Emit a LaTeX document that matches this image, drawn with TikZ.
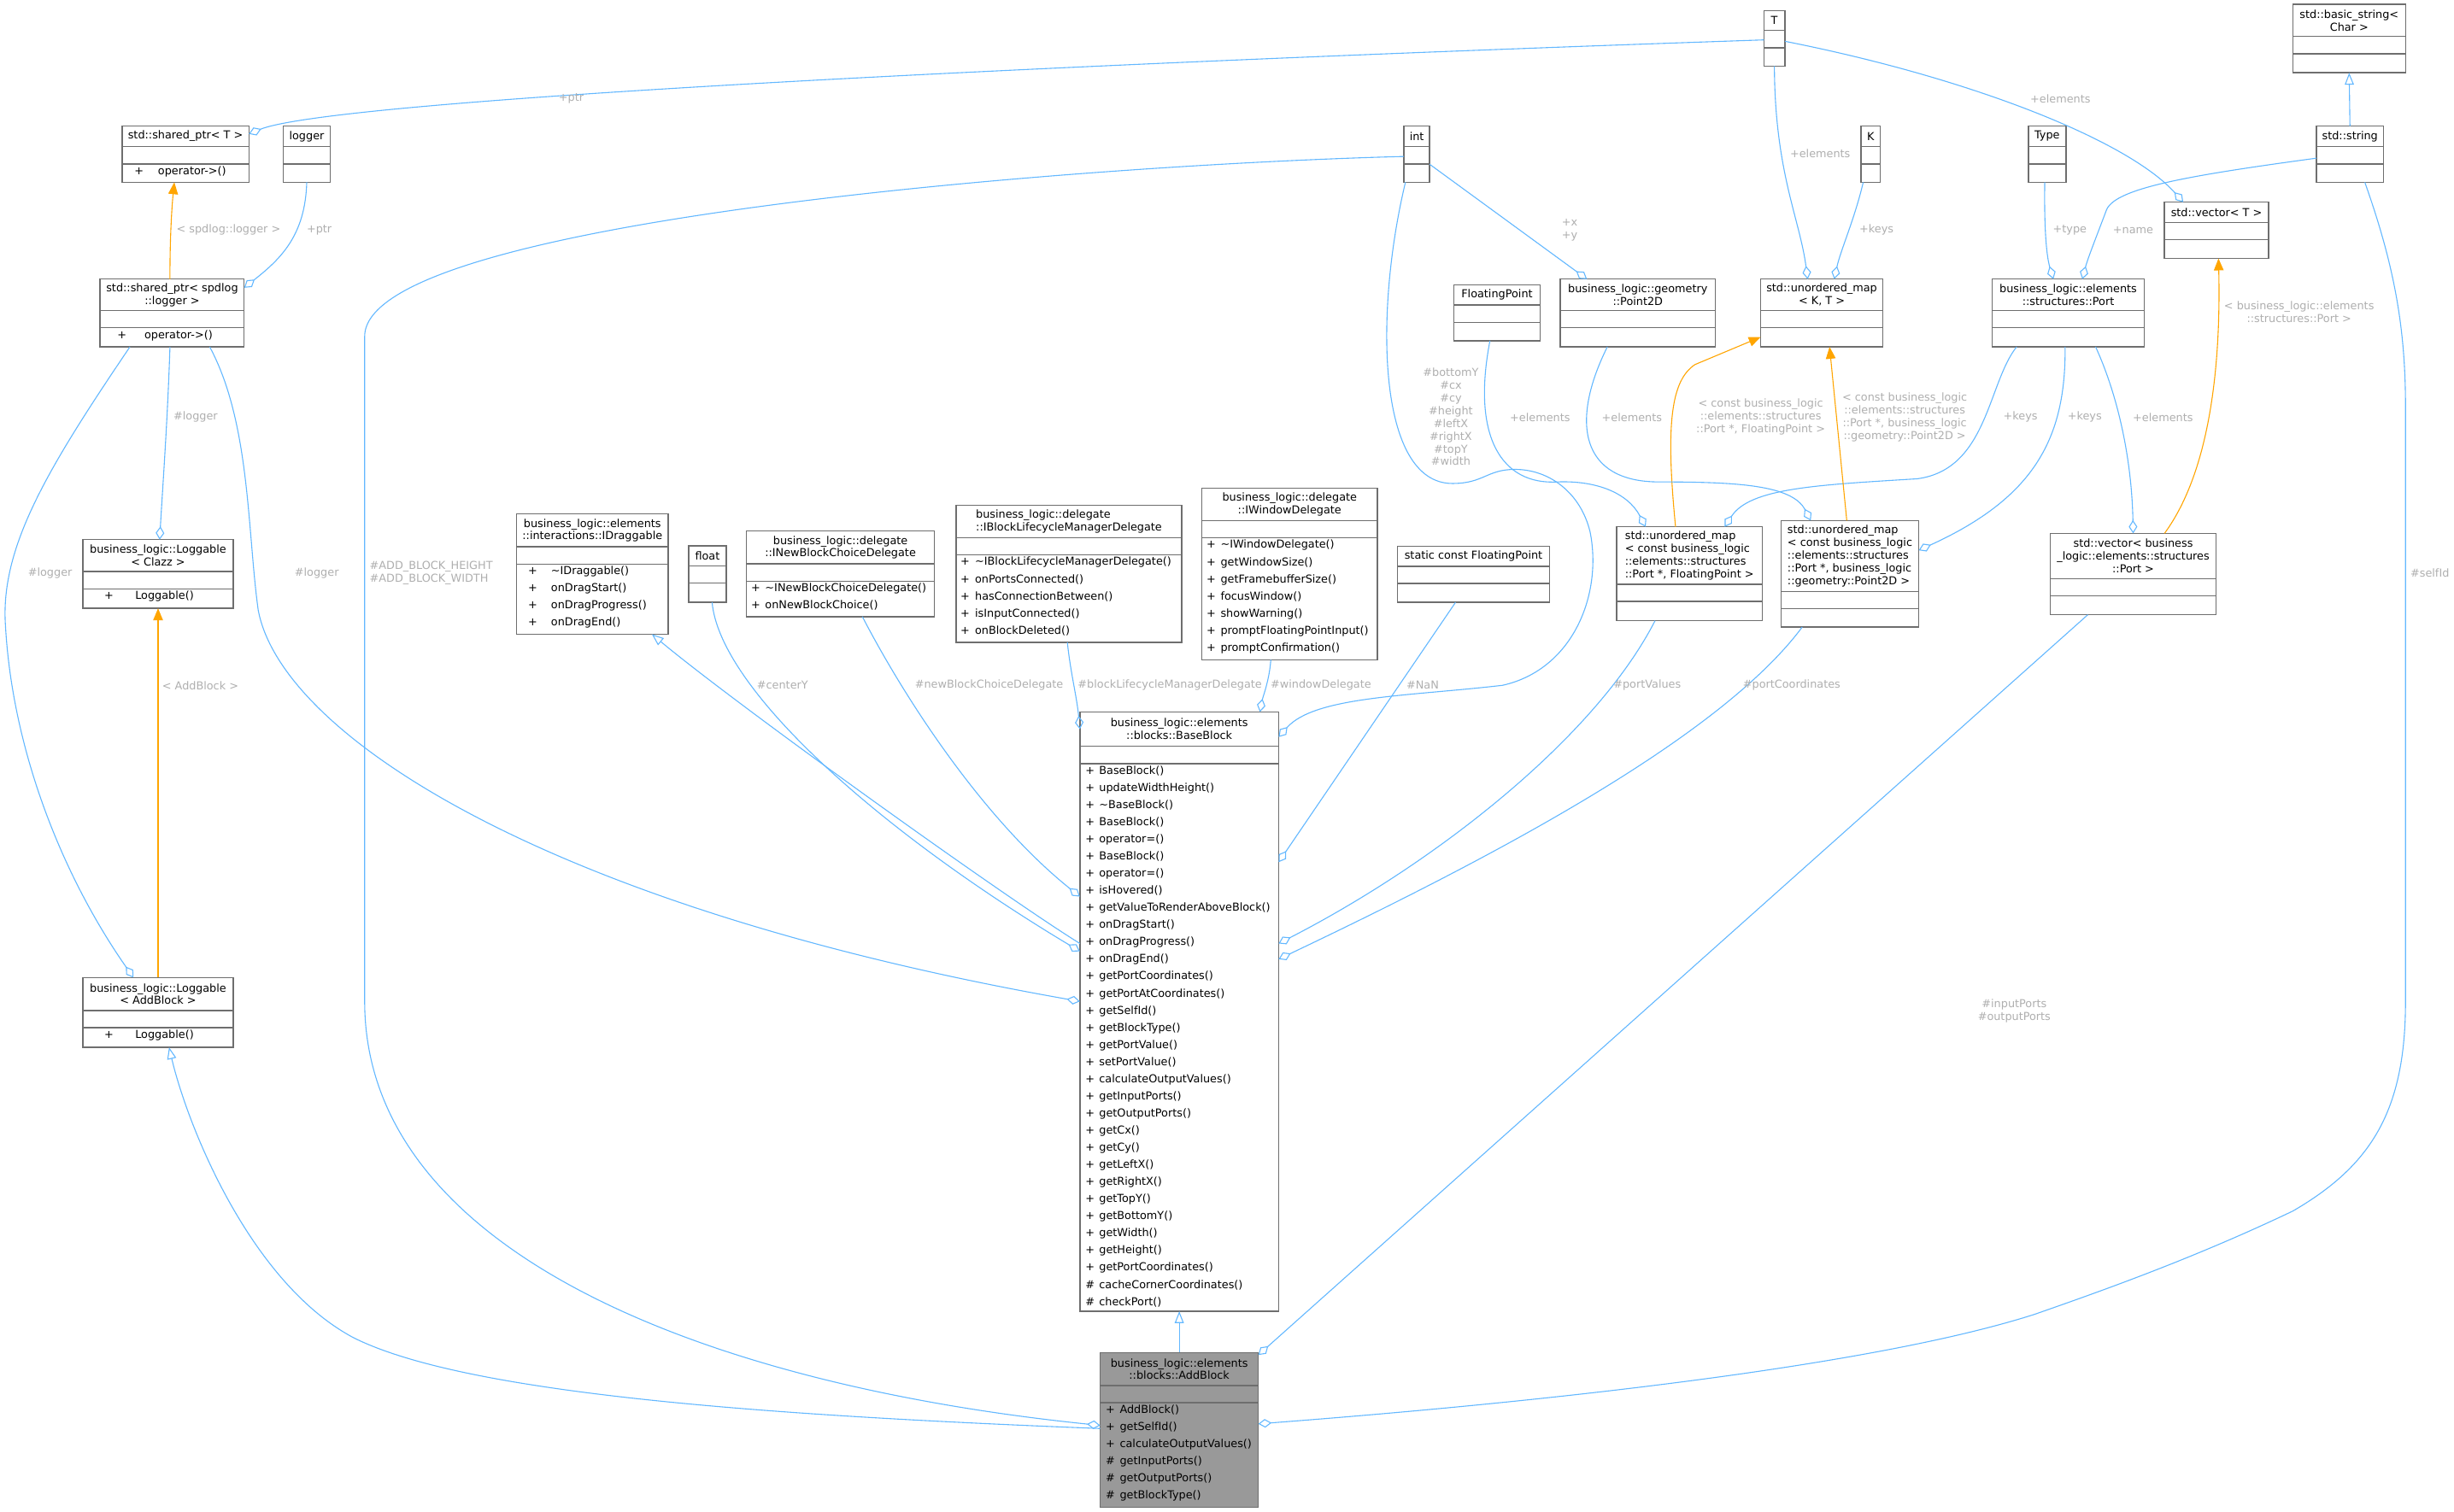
\documentclass[tikz,border=0pt]{standalone}
\usepackage{fontspec}
\setmainfont{DejaVu Sans}
\usetikzlibrary{arrows.meta,calc}

\definecolor{edgeblue}{RGB}{99,184,255}
\definecolor{edgeorange}{RGB}{255,165,0}
\definecolor{boxgray}{RGB}{110,110,110}
\definecolor{labelgray}{RGB}{175,175,175}
\definecolor{mainfill}{RGB}{153,153,153}

\tikzset{
  classbox/.style={draw=boxgray,line width=0.8pt,fill=white,inner sep=0pt,outer sep=0pt},
  classtitle/.style={font=\fontsize{7}{8.1}\selectfont,align=center,inner sep=0pt},
  optext/.style={font=\fontsize{7}{8.1}\selectfont,inner sep=0pt,anchor=base west},
  edgelabel/.style={font=\fontsize{7}{8.1}\selectfont,text=labelgray,align=center,inner sep=0pt},
  has/.style={draw=edgeblue,line width=0.6pt,-{Diamond[open,length=8.5pt,width=5.5pt]}},
  isa/.style={draw=edgeblue,line width=0.6pt,-{Triangle[open,length=7.6pt,width=5.8pt]}},
  tmpl/.style={draw=edgeorange,line width=0.6pt,-{Triangle[length=7.6pt,width=6.2pt]}},
}

% class box: [opts]{name}{left,top}{width}{title height}{ops height}{title}
\newcommand{\umlbox}[7][]{%
  \node[classbox,#1,minimum width=#4pt,minimum height=#5pt+#6pt+11pt,anchor=north west] (#2) at (#3) {};
  \draw[boxgray,line width=0.8pt] ($(#2.north west)+(0,#5)$) -- ($(#2.north east)+(0,#5)$);
  \draw[boxgray,line width=0.8pt] ($(#2.north west)+(0,#5+11)$) -- ($(#2.north east)+(0,#5+11)$);
  \coordinate (#2-ops) at ($(#2.north west)+(0,#5+11)$);
  \node[classtitle,#1] (#2-title) at ($(#2.north)+(0,#5/2)$) {#7};
}
% operations: {box}{symbol x}{name x}{sym/name list}
\newcommand{\umlops}[4]{%
  \foreach \sym/\op [count=\k from 0] in {#4} {
    \node[optext] (#1-sym\k) at ($(#1-ops)+(#2,6.8+10.95*\k)$) {\sym};
    \node[optext] (#1-op\k) at ($(#1-ops)+(#3,6.8+10.95*\k)$) {\op};
  }%
}

\begin{document}
\begin{tikzpicture}[x=1pt,y=-1pt]
  \fill[white] (0,0) rectangle (1568,966);
  \useasboundingbox (0,0) rectangle (1568,966);

  % top row
  \umlbox{T}{1127,6.7}{13.5}{12.8}{11.8}{T}
  \umlbox{basicstr}{1465,2.7}{72}{20.6}{12.2}{std::basic\_string<\\Char >}
  \umlbox{sharedT}{78,80.6}{81}{13.1}{11.8}{std::shared\_ptr< T >}
  \umlops{sharedT}{7.7}{22.8}{+/operator->()}
  \umlbox{logger}{181,80.6}{30}{13.1}{11.8}{logger}
  \umlbox{int}{897,80.6}{16.5}{13.1}{11.8}{int}
  \umlbox{K}{1189,80.6}{12.5}{13.1}{11.8}{K}
  \umlbox{Type}{1296,80.6}{24}{13.1}{11.8}{Type}
  \umlbox{string}{1480,80.6}{43}{13.1}{11.8}{std::string}
  \umlbox{vecT}{1383,129.2}{66.5}{13}{12}{std::vector< T >}
  \umlbox{sharedSpd}{64,178.4}{92}{20}{12.3}{std::shared\_ptr< spdlog\\::logger >}
  \umlops{sharedSpd}{10.8}{28.1}{+/operator->()}
  \umlbox{FP}{929,182}{55}{13}{11.8}{FloatingPoint}
  \umlbox{Point2D}{997,178.4}{99}{20}{12.3}{business\_logic::geometry\\::Point2D}
  \umlbox{umapKT}{1125,178.4}{78}{20}{12.3}{std::unordered\_map\\< K, T >}
  \umlbox{Port}{1273,178.4}{97}{20}{12.3}{business\_logic::elements\\::structures::Port}

  % middle row
  \umlbox{LogClazz}{53,344.9}{96}{20.4}{12.5}{business\_logic::Loggable\\< Clazz >}
  \umlops{LogClazz}{13.5}{33.2}{+/Loggable()}
  \umlbox{IDraggable}{330,328.5}{97}{21}{44.8}{business\_logic::elements\\::interactions::IDraggable}
  \umlops{IDraggable}{7.3}{21.9}{+/\textasciitilde IDraggable(),+/onDragStart(),+/onDragProgress(),+/onDragEnd()}
  \umlbox{float}{440,348.9}{24}{12.7}{12.4}{float}
  \umlbox{INewBlock}{477,339.4}{120}{21}{22.7}{business\_logic::delegate\\::INewBlockChoiceDelegate}
  \umlops{INewBlock}{2.8}{11.7}{+/\textasciitilde INewBlockChoiceDelegate(),+/onNewBlockChoice()}
  \umlbox[align=left]{ILifecycle}{611,323}{144}{20.6}{56}{business\_logic::delegate\\::IBlockLifecycleManagerDelegate}
  \umlops{ILifecycle}{2.5}{11.8}{+/\textasciitilde IBlockLifecycleManagerDelegate(),+/onPortsConnected(),+/hasConnectionBetween(),+/isInputConnected(),+/onBlockDeleted()}
  \umlbox{IWindow}{768,312.1}{112}{20.6}{78}{business\_logic::delegate\\::IWindowDelegate}
  \umlops{IWindow}{2.8}{11.7}{+/\textasciitilde IWindowDelegate(),+/getWindowSize(),+/getFramebufferSize(),+/focusWindow(),+/showWarning(),+/promptFloatingPointInput(),+/promptConfirmation()}
  \umlbox{staticFP}{893,349}{97}{13}{12}{static const FloatingPoint}
  \umlbox[align=left]{umapFP}{1033,336.7}{93}{36.7}{12.3}{std::unordered\_map\\< const business\_logic\\::elements::structures\\::Port *, FloatingPoint >}
  \umlbox[align=left]{umapP2D}{1138,332.7}{88}{45.3}{11.8}{std::unordered\_map\\< const business\_logic\\::elements::structures\\::Port *, business\_logic\\::geometry::Point2D >}
  \umlbox{vecPort}{1310,340.9}{106}{29}{12}{std::vector< business\\\_logic::elements::structures\\::Port >}

  % blocks
  \umlbox{BaseBlock}{690,455}{127}{22}{350}{business\_logic::elements\\::blocks::BaseBlock}
  \umlops{BaseBlock}{3.3}{12.1}{+/BaseBlock(),+/updateWidthHeight(),+/\textasciitilde BaseBlock(),+/BaseBlock(),+/operator=(),+/BaseBlock(),+/operator=(),+/isHovered(),+/getValueToRenderAboveBlock(),+/onDragStart(),+/onDragProgress(),+/onDragEnd(),+/getPortCoordinates(),+/getPortAtCoordinates(),+/getSelfId(),+/getBlockType(),+/getPortValue(),+/setPortValue(),+/calculateOutputValues(),+/getInputPorts(),+/getOutputPorts(),+/getCx(),+/getCy(),+/getLeftX(),+/getRightX(),+/getTopY(),+/getBottomY(),+/getWidth(),+/getHeight(),+/getPortCoordinates(),\#/cacheCornerCoordinates(),\#/checkPort()}
  \umlbox{LogAdd}{53,624.8}{96}{21}{12.5}{business\_logic::Loggable\\< AddBlock >}
  \umlops{LogAdd}{13.5}{33.2}{+/Loggable()}
  \umlbox[fill=mainfill]{AddBlock}{703,864.5}{101}{21}{66.8}{business\_logic::elements\\::blocks::AddBlock}
  \umlops{AddBlock}{3.3}{12.3}{+/AddBlock(),+/getSelfId(),+/calculateOutputValues(),\#/getInputPorts(),\#/getOutputPorts(),\#/getBlockType()}

  % templates and std types
  \draw[has] ($(T.north west)+(0,18.8)$) .. controls (700,40) and (215,63) .. ($(sharedT.north east)+(0,5)$);
  \node[edgelabel] (l-ptrT) at (365,63) {+ptr};
  \draw[has] (T.south) .. controls (1134,110) and (1150,140) .. ($(umapKT.north west)+(30,0)$);
  \node[edgelabel] (l-elemKT) at (1163,98) {+elements};
  \draw[has] ($(T.north east)+(0,19.7)$) .. controls (1260,50) and (1360,90) .. ($(vecT.north west)+(12,0)$);
  \node[edgelabel] (l-elemV) at (1316.5,63) {+elements};
  \draw[has] ($(K.south west)+(1.5,0)$) .. controls (1185,140) and (1176,160) .. ($(umapKT.north west)+(47,0)$);
  \node[edgelabel] (l-keysKT) at (1199,147) {+keys};
  \draw[has] ($(Type.south)+(-1.5,0)$) .. controls (1306,150) and (1308,165) .. ($(Port.north west)+(39,0)$);
  \node[edgelabel] (l-type) at (1322.5,147) {+type};
  \draw[has] ($(string.north west)+(0,20.5)$) .. controls (1400,112) and (1352,120) .. (1346,134) .. controls (1340,150) and (1334,165) .. ($(Port.north west)+(57.5,0)$);
  \node[edgelabel] (l-name) at (1363,147) {+name};
  \draw[isa] (string.north) -- (basicstr.south);
  \draw[has] ($(int.north east)+(0,24.4)$) -- ($(Point2D.north west)+(17,0)$);
  \node[edgelabel] (l-xy) at (1003,147) {+x\\+y};

  % logging
  \draw[has] (logger.south) .. controls (195,150) and (180,165) .. ($(sharedSpd.north east)+(0,5.5)$);
  \node[edgelabel] (l-ptrL) at (204,147) {+ptr};
  \draw[tmpl] ($(sharedSpd.north west)+(44.6,0)$) .. controls (108.5,150) and (110,130) .. ($(sharedT.south west)+(33.4,0)$);
  \node[edgelabel] (l-spd) at (146,147) {< spdlog::logger >};
  \draw[has] ($(sharedSpd.south west)+(44.6,0)$) .. controls (107,270) and (104,310) .. ($(LogClazz.north west)+(49,0)$);
  \node[edgelabel] (l-logC) at (125,266.6) {\#logger};
  \draw[has] ($(sharedSpd.south west)+(19,0)$) .. controls (30,300) and (0,350) .. (3.5,400) .. controls (8,480) and (40,560) .. ($(LogAdd.north west)+(32.3,0)$);
  \node[edgelabel] (l-logA) at (32,366.2) {\#logger};
  \draw[has] ($(sharedSpd.south west)+(70,0)$) .. controls (160,270) and (158,340) .. (165,390) .. controls (180,470) and (350,580) .. ($(BaseBlock.north west)+(0,185)$);
  \node[edgelabel] (l-logB) at (202.4,366.2) {\#logger};
  \draw[tmpl] (LogAdd.north) -- (LogClazz.south);
  \node[edgelabel] (l-addT) at (128,438) {< AddBlock >};
  \draw[isa] ($(AddBlock.north west)+(0,48.5)$) .. controls (500,905) and (300,892) .. (226,855) .. controls (160,820) and (120,720) .. ($(LogAdd.south west)+(55,0)$);
  \draw[has] ($(int.north west)+(0,19.4)$) .. controls (700,105) and (233,140) .. (233,215) -- (233,640) .. controls (233,800) and (450,885) .. ($(AddBlock.north west)+(0,46.5)$);
  \node[edgelabel,align=left,anchor=west] (l-add) at (236,366.3) {\#ADD\_BLOCK\_HEIGHT\\\#ADD\_BLOCK\_WIDTH};

  % base block members
  \draw[isa] ($(BaseBlock.north west)+(0,148)$) .. controls (640,572) and (470,450) .. ($(IDraggable.south west)+(86.5,0)$);
  \draw[has] ($(float.south west)+(15,0)$) .. controls (460,440) and (560,530) .. ($(BaseBlock.north west)+(0,153)$);
  \node[edgelabel] (l-centerY) at (500,438) {\#centerY};
  \draw[has] ($(INewBlock.south west)+(74,0)$) .. controls (580,450) and (630,525) .. ($(BaseBlock.north west)+(0,118)$);
  \node[edgelabel] (l-newBlock) at (632,438) {\#newBlockChoiceDelegate};
  \draw[has] ($(ILifecycle.south west)+(71,0)$) .. controls (684,430) and (688,445) .. ($(BaseBlock.north west)+(0,11)$);
  \node[edgelabel] (l-lifecycle) at (747.5,438) {\#blockLifecycleManagerDelegate};
  \draw[has] ($(IWindow.south west)+(44,0)$) .. controls (811,435) and (807,445) .. ($(BaseBlock.north west)+(115,0)$);
  \node[edgelabel] (l-window) at (844,438) {\#windowDelegate};
  \draw[has] ($(int.south west)+(1,0)$) .. controls (878,200) and (880,309) .. (928,309) .. controls (948,309) and (950,300) .. (968,300) .. controls (990,300) and (1010,315) .. (1016,340) .. controls (1024,380) and (1005,428) .. (960,438) .. controls (900,445) and (840,445) .. ($(BaseBlock.north east)+(0,16)$);
  \node[edgelabel] (l-geom) at (927,266.5) {\#bottomY\\\#cx\\\#cy\\\#height\\\#leftX\\\#rightX\\\#topY\\\#width};
  \draw[has] ($(staticFP.south west)+(37,0)$) -- ($(BaseBlock.north east)+(0,96)$);
  \node[edgelabel] (l-nan) at (909,438) {\#NaN};
  \draw[has] ($(umapFP.south west)+(24.5,0)$) .. controls (1020,470) and (920,550) .. ($(BaseBlock.north east)+(0,148)$);
  \node[edgelabel] (l-values) at (1052.5,438) {\#portValues};
  \draw[has] ($(umapP2D.south west)+(13.5,0)$) .. controls (1100,470) and (960,545) .. ($(BaseBlock.north east)+(0,158)$);
  \node[edgelabel] (l-coords) at (1144.8,438) {\#portCoordinates};

  % add block
  \draw[isa] (AddBlock.north) -- (BaseBlock.south);
  \draw[has] ($(vecPort.south west)+(24,0)$) -- ($(AddBlock.north east)+(0,1.5)$);
  \node[edgelabel] (l-ports) at (1287,646.2) {\#inputPorts\\\#outputPorts};
  \draw[has] ($(string.south west)+(31,0)$) .. controls (1530,170) and (1537,210) .. (1537,260) -- (1537,640) .. controls (1537,710) and (1515,745) .. (1465,774) .. controls (1400,805) and (1340,826) .. (1300,840) .. controls (1200,872) and (1000,895) .. ($(AddBlock.north east)+(0,45.5)$);
  \node[edgelabel,anchor=west] (l-selfId) at (1540,366) {\#selfId};

  % port structures
  \draw[has] ($(Port.south west)+(15.5,0)$) .. controls (1270,245) and (1270,300) .. (1225,306) .. controls (1160,310) and (1118,312) .. ($(umapFP.north west)+(69,0)$);
  \node[edgelabel] (l-keysFP) at (1291,266.6) {+keys};
  \draw[has] ($(Port.south west)+(46.5,0)$) .. controls (1320,280) and (1300,318) .. ($(umapP2D.north east)+(0,19)$);
  \node[edgelabel] (l-keysP2D) at (1332,266.6) {+keys};
  \draw[has] ($(Port.south west)+(66,0)$) .. controls (1352,250) and (1362,290) .. ($(vecPort.north west)+(53,0)$);
  \node[edgelabel] (l-elemPort) at (1382,266.6) {+elements};
  \draw[tmpl] ($(vecPort.north west)+(73,0)$) .. controls (1413,300) and (1419,230) .. ($(vecT.south west)+(34.5,0)$);
  \node[edgelabel] (l-vecPort) at (1469,199.5) {< business\_logic::elements\\::structures::Port >};
  \draw[tmpl] ($(umapFP.north west)+(37.6,0)$) .. controls (1064,270) and (1068,243) .. (1083,233) -- ($(umapKT.south west)+(0,-6.3)$);
  \node[edgelabel] (l-umapFP) at (1125,266.5) {< const business\_logic\\::elements::structures\\::Port *, FloatingPoint >};
  \draw[tmpl] ($(umapP2D.north west)+(42,0)$) -- ($(umapKT.south west)+(44,0)$);
  \node[edgelabel] (l-umapP2D) at (1217,266.6) {< const business\_logic\\::elements::structures\\::Port *, business\_logic\\::geometry::Point2D >};
  \draw[has] ($(FP.south west)+(23,0)$) .. controls (940,280) and (960,310) .. (995,308) .. controls (1020,307) and (1040,315) .. ($(umapFP.north west)+(18.5,0)$);
  \node[edgelabel] (l-elemFP) at (984,266.6) {+elements};
  \draw[has] ($(Point2D.south west)+(30,0)$) .. controls (1003,270) and (1010,308) .. (1060,308) .. controls (1110,308) and (1145,310) .. ($(umapP2D.north west)+(19,0)$);
  \node[edgelabel] (l-elemP2D) at (1042.7,266.6) {+elements};
\end{tikzpicture}
\end{document}
